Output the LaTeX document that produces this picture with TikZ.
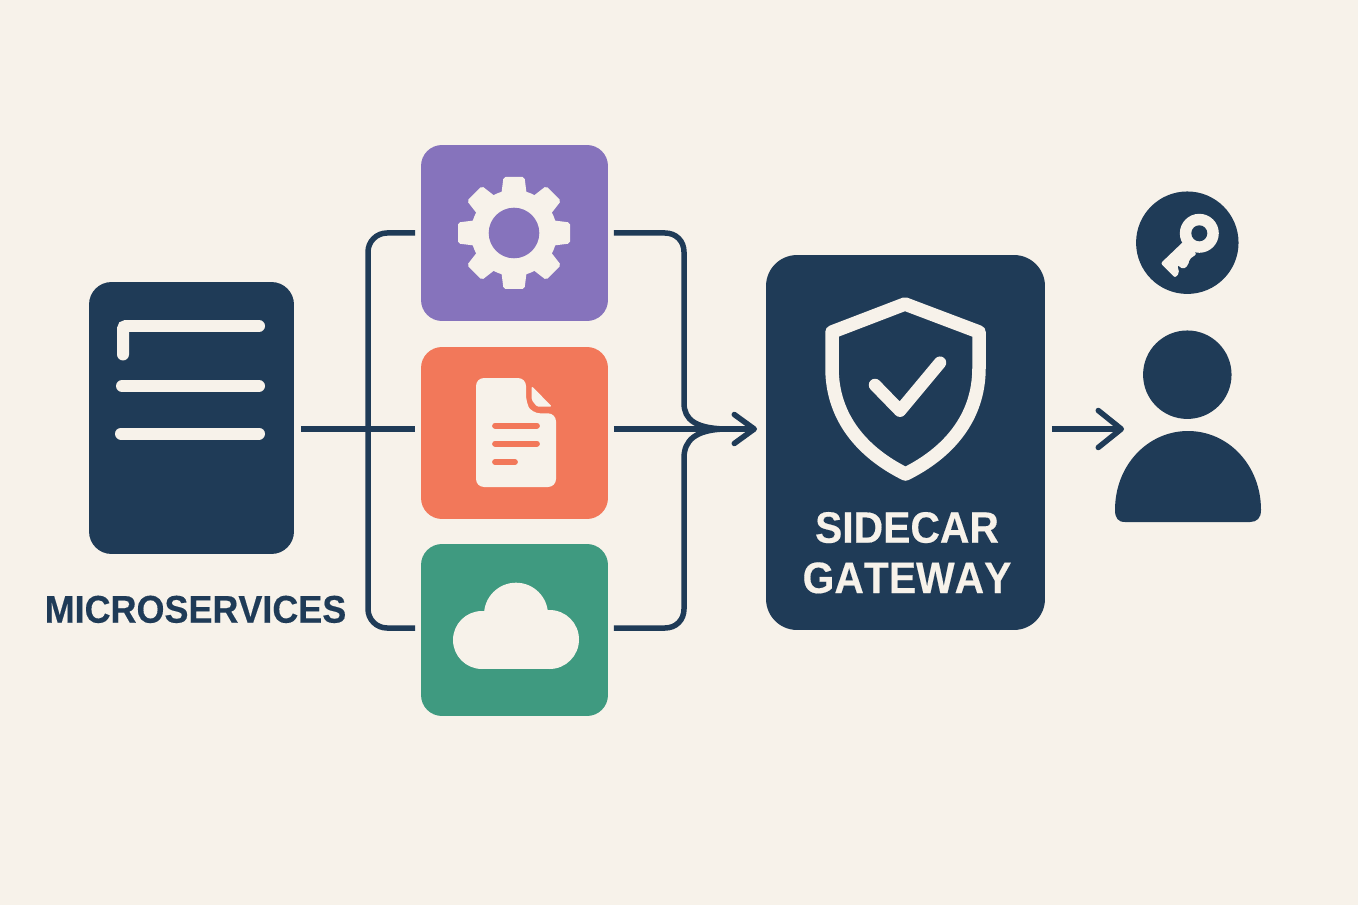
\documentclass[tikz,border=0pt]{standalone}
\usepackage{fontspec}
\usetikzlibrary{arrows.meta}
\setmainfont[FakeStretch=0.93,Kerning=Off,BoldFeatures={FakeBold=0.35}]{Liberation Sans}
\definecolor{paper}{HTML}{F7F2EA}
\definecolor{navy}{HTML}{1F3B57}
\definecolor{violet}{HTML}{8673BC}
\definecolor{coral}{HTML}{F2785A}
\definecolor{teal}{HTML}{3F9A80}
\tikzset{
  box/.style={rounded corners=0.42cm, minimum width=3.74cm, outer sep=0.12cm, inner sep=0},
  flow/.style={draw=navy, line width=0.11cm},
  tipped/.style={flow, -{Straight Barb[round, length=0.4cm, width=0.58cm]}},
  ink/.style={line width=0.24cm, line cap=round, draw=paper},
  rule/.style={line width=0.115cm, line cap=round, draw=coral},
}
\newcommand{\lbl}[1]{{\bfseries\fontsize{25}{28.4}\selectfont #1}}

\begin{document}
\begin{tikzpicture}[x=0.02cm, y=-0.02cm]
    \useasboundingbox (0,0) rectangle (1358,905);
    \fill[paper] (0,0) rectangle (1358,905);

    \node[box, fill=navy, rounded corners=0.45cm, minimum width=4.1cm, minimum height=5.44cm, outer sep=0.14cm] (ms_box) at (191.5,418) {};
    \node[box, fill=violet, minimum height=3.52cm] (gear_box) at (514.5,233) {};
    \node[box, fill=coral, minimum height=3.44cm] (doc_box) at (514.5,433) {};
    \node[box, fill=teal, minimum height=3.44cm] (cloud_box) at (514.5,630) {};
    \node[box, fill=navy, rounded corners=0.62cm, minimum width=5.58cm, minimum height=7.5cm, outer sep=0.14cm] (gw_box) at (905.5,442.5) {};
    \node[circle, fill=navy, minimum size=2.05cm, inner sep=0] (key_badge) at (1187.3,242.7) {};
    \node[circle, fill=navy, minimum size=1.77cm, inner sep=0] (user_head) at (1187.3,374.7) {};
    \node[text=navy, inner sep=0, anchor=base] (ms_label) at (195.5,622.7) {\lbl{\fontsize{22}{26}\selectfont MICROSERVICES}};
    \node[text=paper, inner sep=0, anchor=base] (gw_label_a) at (907,542.7) {\lbl{SIDECAR}};
    \node[text=paper, inner sep=0, anchor=base] (gw_label_b) at (907,593) {\lbl{GATEWAY}};

    \coordinate (hub) at (757,429);
    \coordinate (low) at (368,628);
    \coordinate (user_in) at (1124,429);

    \draw[flow] (ms_box.east |- hub) -- (doc_box.west |- hub);
    \draw[flow, rounded corners=0.38cm] (gear_box.west) -- (low |- gear_box.west) -- (low) -- (cloud_box.west |- low);
    \draw[tipped] (doc_box.east |- hub) -- (hub);
    \draw[flow] (gear_box.east) -- (665,233) .. controls (676,233) and (684,241) .. (684,252) -- (684,403) .. controls (684,420) and (696,428) .. (724,429);
    \draw[flow] (cloud_box.east |- low) -- (665,628) .. controls (676,628) and (684,620) .. (684,609) -- (684,458) .. controls (684,440) and (696,430) .. (724,429);
    \draw[flow, -{Straight Barb[round, length=0.46cm, width=0.74cm]}] (gw_box.east |- hub) -- (user_in);

    \draw[ink, rounded corners=0.06cm] (123,354.5) -- (123,326) -- (259,326);
    \draw[ink] (122,386) -- (259,386);
    \draw[ink] (121,433.5) -- (259,433.5);

    \fill[paper] (514,233) circle (43);
    \foreach \a in {0,45,...,315}
      \fill[paper, rounded corners=0.04cm, rotate around={\a:(514,233)}] (501,197) -- (503.5,177) -- (524.5,177) -- (527,197) -- cycle;
    \fill[violet] (514,233) circle (25.3);

    \fill[paper, rounded corners=0.16cm] (476,378) -- (526,378) -- (526,403) -- (532,413.3) -- (556,413.3) -- (556,487) -- (476,487) -- cycle;
    \fill[paper, rounded corners=0.03cm] (531.7,386) -- (552,406.7) -- (537,406.7) -- (531.7,400) -- cycle;
    \draw[rule] (495,425.7) -- (537,425.7);
    \draw[rule] (495,443.7) -- (537,443.7);
    \draw[rule] (495,462) -- (515,462);

    \fill[paper] (482,640) circle (29);
    \fill[paper] (549.5,639.5) circle (29.5);
    \fill[paper] (516,614.7) circle (32);
    \fill[paper] (482,611) rectangle (549.5,669);

    \draw[paper, line width=0.27cm, line join=round] (905,304) -- (979,332) -- (979,368) .. controls (979,418) and (948,453) .. (905.5,474) .. controls (863,453) and (832,418) .. (832,368) -- (832,332) -- cycle;
    \draw[paper, line width=0.25cm, line cap=round, line join=round] (875,385) -- (900,410.7) -- (940,362.7);

    \fill[paper] (1199.3,233.3) circle (19.5);
    \fill[paper, rounded corners=0.04cm] (1160.7,263.3) -- (1183.3,241.7) -- (1196.7,254) -- (1189.3,259.3) -- (1188.3,265) -- (1183.3,269.3) -- (1177.3,265) -- (1179.3,273.3) -- (1175,277.7) -- cycle;
    \fill[navy] (1199.3,233.3) circle (8);

    \fill[navy] (1115,510) .. controls (1115,465) and (1148,431) .. (1188,431) .. controls (1228,431) and (1261,465) .. (1261,510) .. controls (1261,518) and (1257,522) .. (1250,522) -- (1125,522) .. controls (1118,522) and (1115,518) .. (1115,510) -- cycle;
  \end{tikzpicture}
\end{document}
